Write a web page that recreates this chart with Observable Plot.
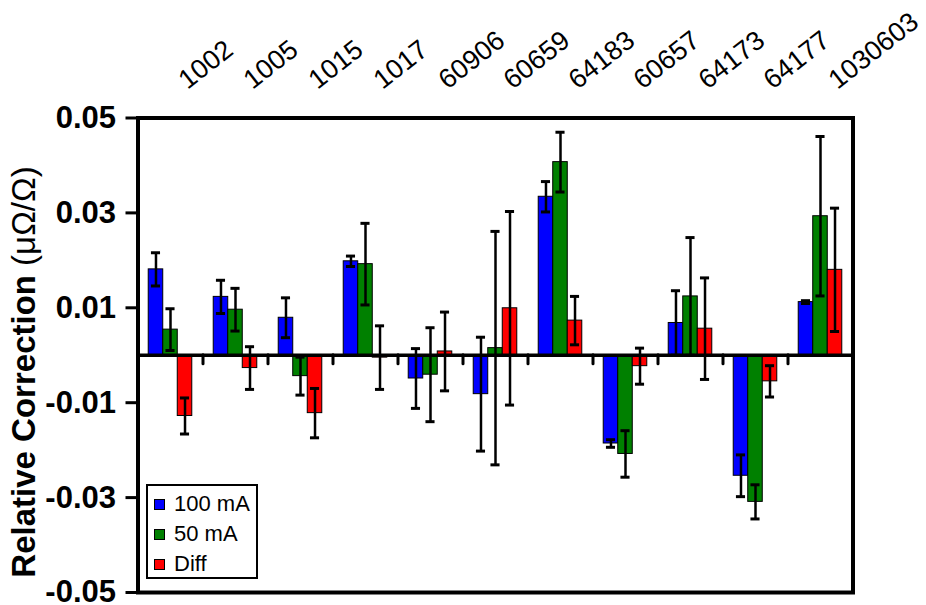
<!DOCTYPE html>
<html>
<head>
<meta charset="utf-8">
<script src="https://cdn.jsdelivr.net/npm/d3@7"></script>
<script src="https://cdn.jsdelivr.net/npm/@observablehq/plot@0.6"></script>
<style>
  html, body { margin: 0; padding: 0; background: #fff; }
  #wrap { position: relative; width: 926px; height: 605px; overflow: hidden; font-family: "Liberation Sans", Arial, sans-serif; }
  #wrap svg { display: block; }
  .legend { position: absolute; left: 146px; top: 484px; width: 108px; height: 91px; border: 2.5px solid #000; background: #fff; box-sizing: content-box; }
  .legend .item { position: absolute; left: 6px; height: 26px; display: flex; align-items: center; font-size: 22px; color: #000; }
  .legend .sw { width: 9px; height: 9px; border: 1px solid #000; margin-right: 9px; }
</style>
</head>
<body>
<div id="wrap"></div>
<script>
// ---- data ----
const categories = ["1002", "1005", "1015", "1017", "60906", "60659", "64183", "60657", "64173", "64177", "1030603"];
const seriesNames = ["100 mA", "50 mA", "Diff"];
const seriesColors = ["#0000ff", "#008000", "#ff0000"];
const values100  = [0.0181, 0.0123, 0.0079, 0.0198, -0.0049, -0.0082, 0.0334, -0.0186, 0.0068, -0.0254, 0.0112];
const errors100  = [0.0035, 0.0035, 0.0042, 0.0011, 0.0063, 0.0120, 0.0032, 0.0008, 0.0068, 0.0044, 0.0003];
const values50   = [0.0054, 0.0096, -0.0044, 0.0192, -0.0041, 0.0015, 0.0407, -0.0208, 0.0124, -0.0309, 0.0293];
const errors50   = [0.0044, 0.0045, 0.0040, 0.0086, 0.0099, 0.0246, 0.0063, 0.0049, 0.0124, 0.0036, 0.0168];
const valuesDiff = [-0.0128, -0.0027, -0.0122, -0.0005, 0.0008, 0.0099, 0.0073, -0.0023, 0.0056, -0.0055, 0.0180];
const errorsDiff = [0.0038, 0.0045, 0.0052, 0.0067, 0.0083, 0.0204, 0.0051, 0.0038, 0.0107, 0.0033, 0.0130];
const yTicks = [0.05, 0.03, 0.01, -0.01, -0.03, -0.05];
const yLabelBold = "Relative Correction ";
const yLabelUnit = "(μΩ/Ω)";

// ---- table built from the arrays ----
const seriesValues = [values100, values50, valuesDiff];
const seriesErrors = [errors100, errors50, errorsDiff];
const groupPad = 0.165;
const barW = (1 - 2 * groupPad) / seriesNames.length;
const data = categories.flatMap((c, i) => seriesNames.map((s, j) => ({
  cat: c, i, s, j,
  v: seriesValues[j][i],
  e: seriesErrors[j][i],
  x1: i + groupPad + j * barW,
  x2: i + groupPad + (j + 1) * barW,
  xc: i + groupPad + (j + 0.5) * barW
})));
const capHalf = 0.07;

const chart = Plot.plot({
  width: 926,
  height: 605,
  marginLeft: 137.5,
  marginRight: 73.5,
  marginTop: 117.5,
  marginBottom: 13,
  x: { domain: [0, categories.length], axis: null },
  y: { domain: [-0.05, 0.05], axis: null },
  color: { domain: seriesNames, range: seriesColors },
  style: { fontFamily: "'Liberation Sans', Arial, sans-serif", background: "white", overflow: "visible", color: "#000" },
  marks: [
    Plot.rectY(data, { x1: "x1", x2: "x2", y1: 0, y2: "v", fill: "s", stroke: "#000", strokeWidth: 1 }),
    Plot.ruleY([0], { stroke: "#000", strokeWidth: 3.5 }),
    Plot.ruleX(d3.range(1, categories.length), { y1: 0, y2: -0.0019, stroke: "#000", strokeWidth: 3, strokeLinecap: "round" }),
    Plot.ruleX(data, { x: "xc", y1: d => d.v - d.e, y2: d => d.v + d.e, stroke: "#000", strokeWidth: 2.5 }),
    Plot.ruleY(data, { y: d => d.v + d.e, x1: d => d.xc - capHalf, x2: d => d.xc + capHalf, stroke: "#000", strokeWidth: 3 }),
    Plot.ruleY(data, { y: d => d.v - d.e, x1: d => d.xc - capHalf, x2: d => d.xc + capHalf, stroke: "#000", strokeWidth: 3 }),
    Plot.axisY(yTicks, {
      anchor: "left", tickSize: 12, tickPadding: 10, strokeWidth: 3,
      tickFormat: d => d.toFixed(2), fontWeight: "bold", fontSize: 31, label: null
    }),
    Plot.text(categories, {
      x: (d, i) => i + 0.5, frameAnchor: "top", text: d => d,
      rotate: -38, textAnchor: "start", lineAnchor: "bottom",
      dx: 17, dy: -28, fontSize: 27, fill: "#000"
    }),
    Plot.frame({ stroke: "#000", strokeWidth: 4 })
  ]
});

const wrap = document.getElementById("wrap");
wrap.appendChild(chart);

// y-axis title with mixed weights
const svg = d3.select(chart);
const t = svg.append("text")
  .attr("transform", "translate(35,372) rotate(-90)")
  .attr("text-anchor", "middle")
  .attr("font-family", "'Liberation Sans', Arial, sans-serif")
  .attr("font-size", 33)
  .attr("fill", "#000");
t.append("tspan").attr("font-weight", "bold").text(yLabelBold);
t.append("tspan").attr("font-weight", "normal").text(yLabelUnit);

// legend inside the plot area
const legend = document.createElement("div");
legend.className = "legend";
seriesNames.forEach((s, j) => {
  const item = document.createElement("div");
  item.className = "item";
  item.style.top = (5 + j * 30) + "px";
  const sw = document.createElement("span");
  sw.className = "sw";
  sw.style.background = seriesColors[j];
  const lab = document.createElement("span");
  lab.textContent = s;
  item.appendChild(sw);
  item.appendChild(lab);
  legend.appendChild(item);
});
wrap.appendChild(legend);
</script>
</body>
</html>
